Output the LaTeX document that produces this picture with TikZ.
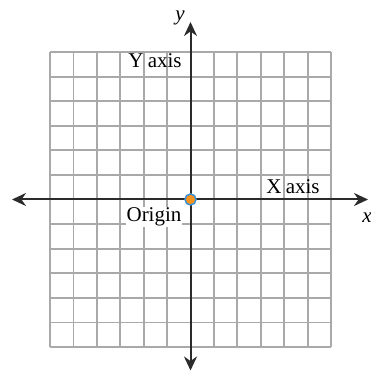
\documentclass[tikz,border=0pt]{standalone}
\usepackage{fontspec}
\setmainfont{Liberation Serif}
\usetikzlibrary{arrows.meta}
\definecolor{gridgray}{HTML}{A9A9A9}
\definecolor{axisdark}{HTML}{2B2B2B}
\definecolor{dotorange}{HTML}{F7941D}
\definecolor{dotblue}{HTML}{3D8ED0}
\begin{document}
\begin{tikzpicture}[x=1pt,y=1pt,
  gridline/.style={draw=gridgray,line width=1.8pt},
  axisline/.style={draw=axisdark,line width=2pt,{Stealth[length=14pt,width=13pt]}-{Stealth[length=14pt,width=13pt]}},
  lbl/.style={font=\fontsize{21}{21}\selectfont,inner sep=0.5pt},
  axlbl/.style={font=\fontsize{21}{21}\selectfont\itshape,inner sep=0pt}]
\useasboundingbox (0,0) rectangle (371,371);
% grid
\foreach \i in {0,...,12}{
  \draw[gridline] ({50+\i*23.42},24) -- ({50+\i*23.42},319);
  \draw[gridline] (50,{24+\i*24.58}) -- (331,{24+\i*24.58});
}
% axis ends
\coordinate (xl) at (12,171.5);
\coordinate (xr) at (368,171.5);
\coordinate (yt) at (190.5,349);
\coordinate (yb) at (190.5,0.5);
\draw[axisline] (xl) -- (xr);
\draw[axisline] (yb) -- (yt);
% labels
\node[lbl] (ylab) at (155,310) {Y\kern-1pt\ axis};
\node[lbl] (xlab) at (293,184) {X\kern-1pt\ axis};
\node[lbl,fill=white] (orig) at (154,154) {Origin};
\node[axlbl] (yname) at (180,353) {y};
\node[axlbl] (xname) at (367,153) {x};
% origin dot
\node[circle,fill=dotorange,draw=dotblue,line width=1.5pt,minimum size=11pt,inner sep=0pt] (o) at (190.5,171.5) {};
\end{tikzpicture}
\end{document}
